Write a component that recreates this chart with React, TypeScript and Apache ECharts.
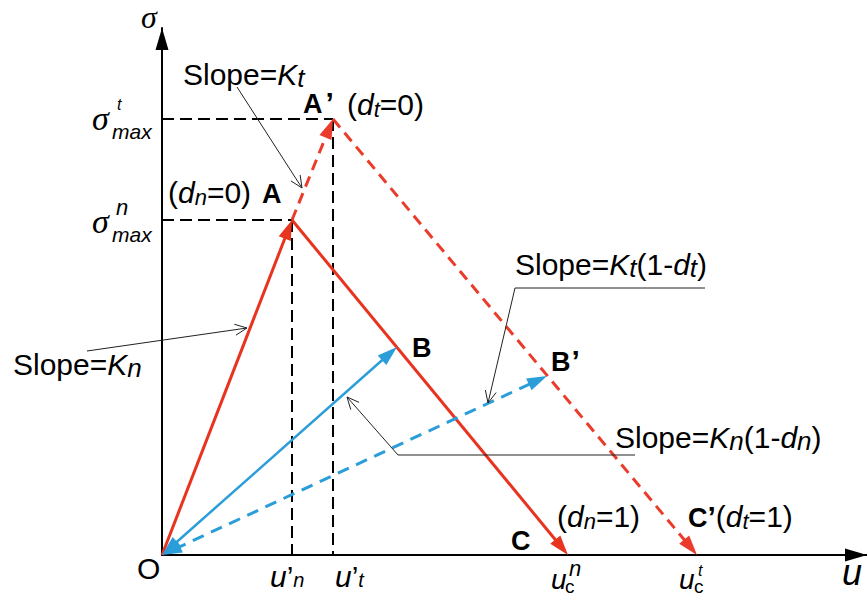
import React, { useEffect, useRef } from 'react';
import * as echarts from 'echarts';

const SANS = '"Liberation Sans", Arial, Helvetica, sans-serif';
const SERIF = '"Liberation Serif", "Times New Roman", serif';

// Characteristic points of the two bilinear traction–separation laws (u, σ)
const POINT_NAMES = ['O', 'A', 'A’', 'B', 'B’', 'C', 'C’'];
const POINT_U = [0, 13.0, 17.1, 23.5, 38.5, 40.6, 53.5];
const POINT_SIGMA = [0, 33.5, 43.6, 20.8, 17.9, 0, 0];

// Loading, softening and unloading paths between the points
const PATH_FROM = ['O', 'A', 'A', 'A’', 'O', 'O'];
const PATH_TO = ['A', 'A’', 'C', 'C’', 'B', 'B’'];
const PATH_KIND = ['red', 'redDash', 'red', 'redDash', 'blue', 'blueDash'];
const PATH_BOTH_ENDS = [false, false, false, false, true, true];

// Peak points projected onto both axes
const GUIDE_POINTS = ['A', 'A’'];

// Leader lines of the slope annotations (u, σ); the arrow sits on the last vertex
const LEADER_KT = [[7.5, 46.8], [14.0, 36.7]];
const LEADER_KN = [[-7.5, 20.4], [8.5, 22.7]];
const LEADER_KT_DMG = [[54.3, 26.7], [35.3, 26.7], [32.6, 15.2]];
const LEADER_KN_DMG = [[47.3, 10.0], [23.6, 10.0], [18.5, 15.8]];
const LEADERS = [LEADER_KT, LEADER_KN, LEADER_KT_DMG, LEADER_KN_DMG];

const U_MAX = 70.5;
const SIGMA_MAX = 52.7;

const RED = '#e8331f';
const BLUE = '#2b9dd8';

const STROKES: Record<string, { stroke: string; lineWidth: number; lineDash: number[] | null }> = {
  red: { stroke: RED, lineWidth: 3, lineDash: null },
  redDash: { stroke: '#eb3b2a', lineWidth: 3, lineDash: [11, 7] },
  blue: { stroke: BLUE, lineWidth: 2.5, lineDash: null },
  blueDash: { stroke: BLUE, lineWidth: 3, lineDash: [12, 8] },
};

const HEAD_LEN = 20;
const HEAD_HALF = 6.5;

const ptIndex = (n: string) => POINT_NAMES.indexOf(n);

function headPoints(tip: number[], ux: number, uy: number, len: number, half: number) {
  const bx = tip[0] - ux * len;
  const by = tip[1] - uy * len;
  return [
    [tip[0], tip[1]],
    [bx - uy * half, by + ux * half],
    [bx + uy * half, by - ux * half],
  ];
}

type Part = { t: string; size: number; style: 'r' | 'i' | 'b' | 's'; dy?: number; dx?: number };
const R = (t: string, size = 30, dy = 0, dx = 0): Part => ({ t, size, style: 'r', dy, dx });
const I = (t: string, size = 30, dy = 0, dx = 0): Part => ({ t, size, style: 'i', dy, dx });
const B = (t: string, size = 27, dy = 0, dx = 0): Part => ({ t, size, style: 'b', dy, dx });
const S = (t: string, size = 32, dy = 0, dx = 0): Part => ({ t, size, style: 's', dy, dx });

function fontOf(p: Part) {
  if (p.style === 's') return `italic ${p.size}px ${SERIF}`;
  if (p.style === 'i') return `italic ${p.size}px ${SANS}`;
  if (p.style === 'b') return `bold ${p.size}px ${SANS}`;
  return `${p.size}px ${SANS}`;
}

const measureCtx = document.createElement('canvas').getContext('2d') as CanvasRenderingContext2D;

// Lays out mixed-style text pieces on a common alphabetic baseline
function run(x: number, baseline: number, parts: Part[]) {
  const out: any[] = [];
  let cx = x;
  for (const p of parts) {
    cx += p.dx || 0;
    const font = fontOf(p);
    const central = baseline + (p.dy || 0) - 0.345 * p.size;
    out.push({
      type: 'text',
      x: cx,
      y: central,
      silent: true,
      style: { text: p.t, font, fill: '#000', align: 'left', verticalAlign: 'middle' },
    });
    measureCtx.font = font;
    cx += measureCtx.measureText(p.t).width;
  }
  return out;
}

export default function App() {
  const ref = useRef<HTMLDivElement>(null);

  useEffect(() => {
    const el = ref.current as HTMLDivElement;
    const chart = echarts.init(el, null, { renderer: 'svg' });

    const pathData = PATH_FROM.map((f, i) => {
      const a = ptIndex(f);
      const b = ptIndex(PATH_TO[i]);
      return [POINT_U[a], POINT_SIGMA[a], POINT_U[b], POINT_SIGMA[b], i];
    });
    const guideData = GUIDE_POINTS.map((n) => [POINT_U[ptIndex(n)], POINT_SIGMA[ptIndex(n)]]);
    const leaderData = LEADERS.map((_, i) => [i, 0]);

    const axisCommon = {
      type: 'value',
      axisTick: { show: false },
      axisLabel: { show: false },
      splitLine: { show: false },
      axisLine: {
        show: true,
        symbol: ['none', 'triangle'],
        symbolSize: [13, 22],
        symbolOffset: [0, -11],
        lineStyle: { color: '#000', width: 2 },
      },
    };

    chart.setOption({
      animation: false,
      grid: { left: 162, right: 0, top: 28, bottom: 38 },
      xAxis: { ...axisCommon, min: 0, max: U_MAX },
      yAxis: { ...axisCommon, min: 0, max: SIGMA_MAX },
      series: [
        {
          type: 'custom',
          coordinateSystem: 'cartesian2d',
          silent: true,
          clip: false,
          z: 1,
          data: guideData,
          renderItem: (_p: any, api: any) => {
            const u = api.value(0);
            const s = api.value(1);
            const p = api.coord([u, s]);
            const h = api.coord([0, s]);
            const v = api.coord([u, 0]);
            const style = { stroke: '#000', lineWidth: 2, lineDash: [12, 6], fill: null };
            return {
              type: 'group',
              children: [
                { type: 'line', shape: { x1: h[0], y1: h[1], x2: p[0], y2: p[1] }, style },
                { type: 'line', shape: { x1: p[0], y1: p[1], x2: v[0], y2: v[1] }, style },
              ],
            };
          },
        },
        {
          type: 'custom',
          coordinateSystem: 'cartesian2d',
          silent: true,
          clip: false,
          z: 3,
          data: pathData,
          renderItem: (_p: any, api: any) => {
            const i = api.value(4) as number;
            const p1 = api.coord([api.value(0), api.value(1)]);
            const p2 = api.coord([api.value(2), api.value(3)]);
            const st = STROKES[PATH_KIND[i]];
            const both = PATH_BOTH_ENDS[i];
            const dx = p2[0] - p1[0];
            const dy = p2[1] - p1[1];
            const d = Math.hypot(dx, dy);
            const ux = dx / d;
            const uy = dy / d;
            const cut = HEAD_LEN * 0.7;
            const s = both ? [p1[0] + ux * cut, p1[1] + uy * cut] : p1;
            const e = [p2[0] - ux * cut, p2[1] - uy * cut];
            const children: any[] = [
              {
                type: 'line',
                shape: { x1: s[0], y1: s[1], x2: e[0], y2: e[1] },
                style: { stroke: st.stroke, lineWidth: st.lineWidth, lineDash: st.lineDash, fill: null },
              },
              { type: 'polygon', shape: { points: headPoints(p2, ux, uy, HEAD_LEN, HEAD_HALF) }, style: { fill: st.stroke } },
            ];
            if (both) {
              children.push({
                type: 'polygon',
                shape: { points: headPoints(p1, -ux, -uy, HEAD_LEN, HEAD_HALF) },
                style: { fill: st.stroke },
              });
            }
            return { type: 'group', children };
          },
        },
        {
          type: 'custom',
          coordinateSystem: 'cartesian2d',
          silent: true,
          clip: false,
          z: 4,
          data: leaderData,
          renderItem: (_p: any, api: any) => {
            const pts = LEADERS[api.value(0) as number].map((q) => api.coord(q));
            const tip = pts[pts.length - 1];
            const prev = pts[pts.length - 2];
            const dx = tip[0] - prev[0];
            const dy = tip[1] - prev[1];
            const d = Math.hypot(dx, dy);
            const ux = dx / d;
            const uy = dy / d;
            const [, w1, w2] = headPoints(tip, ux, uy, 12, 5.5);
            const style = { stroke: '#222', lineWidth: 1, fill: null };
            return {
              type: 'group',
              children: [
                { type: 'polyline', shape: { points: pts }, style },
                { type: 'polyline', shape: { points: [w1, tip, w2] }, style },
              ],
            };
          },
        },
      ],
    });

    const px = (u: number, s: number) => chart.convertToPixel({ gridIndex: 0 }, [u, s]) as number[];
    const at = (n: string) => px(POINT_U[ptIndex(n)], POINT_SIGMA[ptIndex(n)]);

    const o = at('O');
    const top = px(0, SIGMA_MAX);
    const end = px(U_MAX, 0);
    const a = at('A');
    const a2 = at('A’');
    const b = at('B');
    const b2 = at('B’');
    const c = at('C');
    const c2 = at('C’');
    const sigN = px(0, POINT_SIGMA[ptIndex('A')]);
    const sigT = px(0, POINT_SIGMA[ptIndex('A’')]);
    const uN = px(POINT_U[ptIndex('A')], 0);
    const uT = px(POINT_U[ptIndex('A’')], 0);
    const kt = px(LEADER_KT[0][0], LEADER_KT[0][1]);
    const kn = px(LEADER_KN[0][0], LEADER_KN[0][1]);
    const ktd = px(LEADER_KT_DMG[1][0], LEADER_KT_DMG[1][1]);
    const knd = px(LEADER_KN_DMG[0][0], LEADER_KN_DMG[0][1]);

    const texts: any[] = [
      // axis titles and origin
      ...run(top[0] - 21, top[1], [S('σ', 32)]),
      ...run(end[0] - 25, end[1] + 30, [I('u', 36)]),
      ...run(o[0] - 25, o[1] + 24, [R('O')]),
      // peak stresses on the σ axis
      ...run(sigT[0] - 70, sigT[1] + 11, [S('σ', 34)]),
      ...run(sigT[0] - 50, sigT[1] + 20, [I('max', 21)]),
      ...run(sigT[0] - 45, sigT[1] - 9, [I('t', 16)]),
      ...run(sigN[0] - 70, sigN[1] + 13, [S('σ', 34)]),
      ...run(sigN[0] - 50, sigN[1] + 22, [I('max', 21)]),
      ...run(sigN[0] - 46, sigN[1] - 5, [I('n', 22)]),
      // point labels
      ...run(a[0] - 124, a[1] - 17, [R('('), I('d'), I('n', 22, 2), R('=0)')]),
      ...run(a[0] - 30, a[1] - 17, [B('A')]),
      ...run(a2[0] - 30, a2[1] - 6, [B('A'), B('’', 30, 0, 3)]),
      ...run(a2[0] + 14, a2[1] - 4, [R('('), I('d'), I('t', 22, 2), R('=0)')]),
      ...run(b[0] + 15, b[1] + 10, [B('B')]),
      ...run(b2[0] + 4, b2[1] - 5, [B('B'), B('’', 30, 0, 1)]),
      ...run(c[0] - 57, c[1] - 5, [B('C')]),
      ...run(c[0] - 11, c[1] - 28, [R('('), I('d'), I('n', 22, 2), R('=1)')]),
      ...run(c2[0] - 9, c2[1] - 28, [B('C'), B('’', 30), R('('), I('d'), I('t', 22, 2), R('=1)')]),
      // displacement marks on the u axis
      ...run(uN[0] - 22, uN[1] + 32, [I('u'), R('’'), I('n', 20)]),
      ...run(uT[0] + 2, uT[1] + 32, [I('u'), R('’'), I('t', 20)]),
      ...run(c[0] - 17, c[1] + 34, [I('u', 28)]),
      ...run(c[0] + 1, c[1] + 21, [I('n', 22)]),
      ...run(c[0] - 3, c[1] + 38, [R('c', 19)]),
      ...run(c2[0] - 18, c2[1] + 34, [I('u', 28)]),
      ...run(c2[0] + 1, c2[1] + 21, [I('t', 16)]),
      ...run(c2[0] - 3, c2[1] + 38, [R('c', 19)]),
      // slope annotations
      ...run(kt[0] - 54, kt[1] - 2, [R('Slope='), I('K'), I('t', 26, 2)]),
      ...run(kn[0] - 74, kn[1] + 24, [R('Slope='), I('K'), I('n', 26, 2)]),
      ...run(ktd[0], ktd[1] - 13, [R('Slope='), I('K'), I('t', 26, 2), R('(1-'), I('d'), I('t', 26, 2), R(')')]),
      ...run(knd[0] - 20, knd[1] - 7, [R('Slope='), I('K'), I('n', 26, 2), R('(1-'), I('d'), I('n', 26, 2), R(')')]),
    ];

    chart.setOption({ graphic: { elements: texts.map((t) => ({ ...t, z: 10 })) } });

    return () => chart.dispose();
  }, []);

  return (
    <div
      ref={ref}
      style={{ position: 'fixed', left: 0, top: 0, width: 867, height: 593, background: '#fff' }}
    />
  );
}
